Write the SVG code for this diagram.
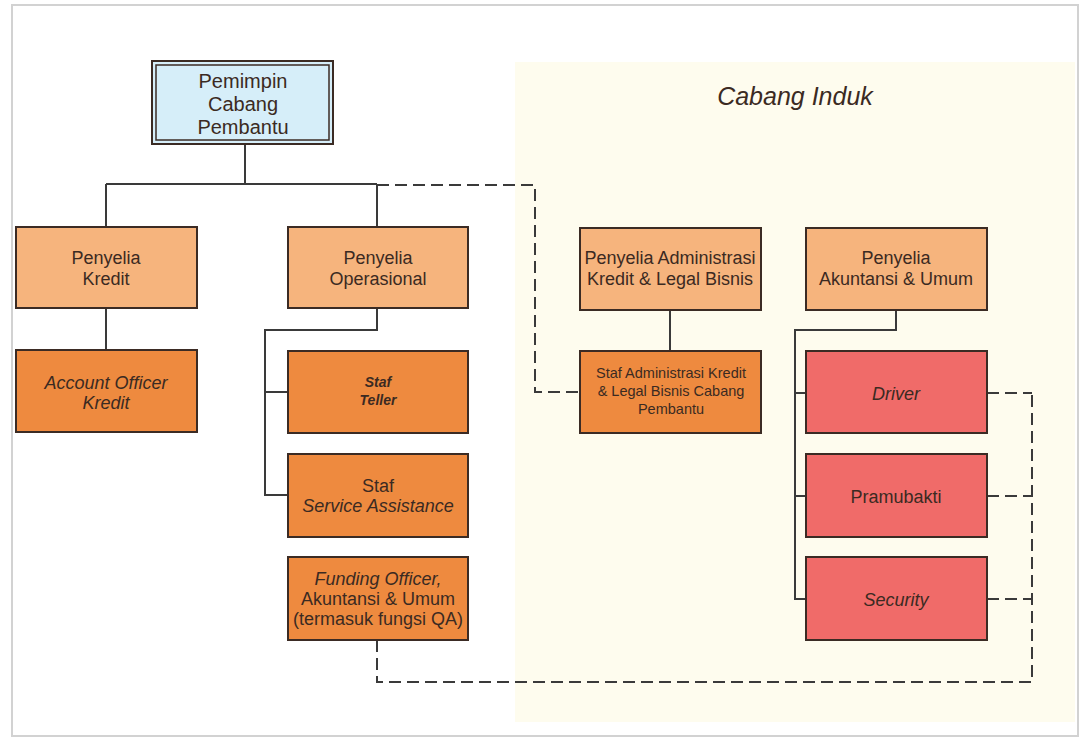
<svg xmlns="http://www.w3.org/2000/svg" width="1081" height="740" viewBox="0 0 1081 740">
<defs>
<style>
.t{font-family:"Liberation Sans",Arimo,Arial,sans-serif;font-size:18px;fill:#3b2a22;text-anchor:middle}
.i{font-style:italic}
.s{font-size:14.5px}
.box{stroke:#3b2b24;stroke-width:2}
.sup{fill:#f6b47d}
.stf{fill:#ee8a3f}
.red{fill:#f06b69}
.ln{fill:none;stroke:#3a3a3a;stroke-width:2}
.dl{fill:none;stroke:#3a3a3a;stroke-width:2;stroke-dasharray:12 6}
</style>
</defs>
<rect x="0" y="0" width="1081" height="740" fill="#ffffff"/>
<rect x="12" y="5" width="1066" height="731" fill="#ffffff" stroke="#d2d2d2" stroke-width="2"/>
<rect x="515" y="62" width="560" height="660" fill="#fefcee"/>
<text class="t i" x="795" y="105" style="font-size:25px">Cabang Induk</text>

<g id="connectors">
<path class="ln" d="M245,145 V184 M106,184 H377 M106,184 V227 M377,184 V227"/>
<path class="ln" d="M106,308 V350"/>
<path class="ln" d="M377,308 V330 H265 V495 H288 M265,392 H288"/>
<path class="ln" d="M670,310 V351"/>
<path class="ln" d="M896,310 V330 H795 V599 H806 M795,393 H806 M795,496 H806"/>
<path class="dl" d="M377,185 H535 V392 H580"/>
<path class="dl" d="M377,640 V682 H1032 V393"/>
<path class="dl" d="M987,393 H1032 M987,496 H1032 M987,599 H1032"/>
</g>

<g id="pemimpin">
<rect x="152" y="61" width="181" height="83" fill="#d6eef9" stroke="#3b2b24" stroke-width="2"/>
<rect x="156" y="65" width="173" height="75" fill="none" stroke="#3b2b24" stroke-width="1.5"/>
<text class="t" x="243" y="88" style="font-size:20px">Pemimpin</text>
<text class="t" x="243" y="111" style="font-size:20px">Cabang</text>
<text class="t" x="243" y="134" style="font-size:20px">Pembantu</text>
</g>

<g id="penyelia-kredit">
<rect class="box sup" x="16" y="227" width="181" height="81"/>
<text class="t" x="106" y="264">Penyelia</text>
<text class="t" x="106" y="285">Kredit</text>
</g>
<g id="penyelia-operasional">
<rect class="box sup" x="288" y="227" width="180" height="81"/>
<text class="t" x="378" y="264">Penyelia</text>
<text class="t" x="378" y="285">Operasional</text>
</g>
<g id="penyelia-administrasi">
<rect class="box sup" x="580" y="228" width="181" height="82"/>
<text class="t" x="670" y="264">Penyelia Administrasi</text>
<text class="t" x="670" y="285">Kredit &amp; Legal Bisnis</text>
</g>
<g id="penyelia-akuntansi">
<rect class="box sup" x="806" y="228" width="181" height="82"/>
<text class="t" x="896" y="264">Penyelia</text>
<text class="t" x="896" y="285">Akuntansi &amp; Umum</text>
</g>

<g id="account-officer">
<rect class="box stf" x="16" y="350" width="181" height="82"/>
<text class="t i" x="106" y="389">Account Officer</text>
<text class="t i" x="106" y="409">Kredit</text>
</g>
<g id="staf-teller">
<rect class="box stf" x="288" y="351" width="180" height="82"/>
<text class="t i" x="378" y="387" style="font-size:14px;font-weight:bold">Staf</text>
<text class="t i" x="378" y="405" style="font-size:14px;font-weight:bold">Teller</text>
</g>
<g id="staf-service">
<rect class="box stf" x="288" y="454" width="180" height="83"/>
<text class="t" x="378" y="492">Staf</text>
<text class="t i" x="378" y="512">Service Assistance</text>
</g>
<g id="funding-officer">
<rect class="box stf" x="288" y="557" width="180" height="83"/>
<text class="t i" x="378" y="585">Funding Officer,</text>
<text class="t" x="378" y="605">Akuntansi &amp; Umum</text>
<text class="t" x="378" y="625">(termasuk fungsi QA)</text>
</g>
<g id="staf-administrasi">
<rect class="box stf" x="580" y="351" width="181" height="82"/>
<text class="t s" x="671" y="378">Staf Administrasi Kredit</text>
<text class="t s" x="671" y="396">&amp; Legal Bisnis Cabang</text>
<text class="t s" x="671" y="414">Pembantu</text>
</g>
<g id="driver">
<rect class="box red" x="806" y="351" width="181" height="82"/>
<text class="t i" x="896" y="400">Driver</text>
</g>
<g id="pramubakti">
<rect class="box red" x="806" y="454" width="181" height="83"/>
<text class="t" x="896" y="503">Pramubakti</text>
</g>
<g id="security">
<rect class="box red" x="806" y="557" width="181" height="83"/>
<text class="t i" x="896" y="606">Security</text>
</g>
</svg>
